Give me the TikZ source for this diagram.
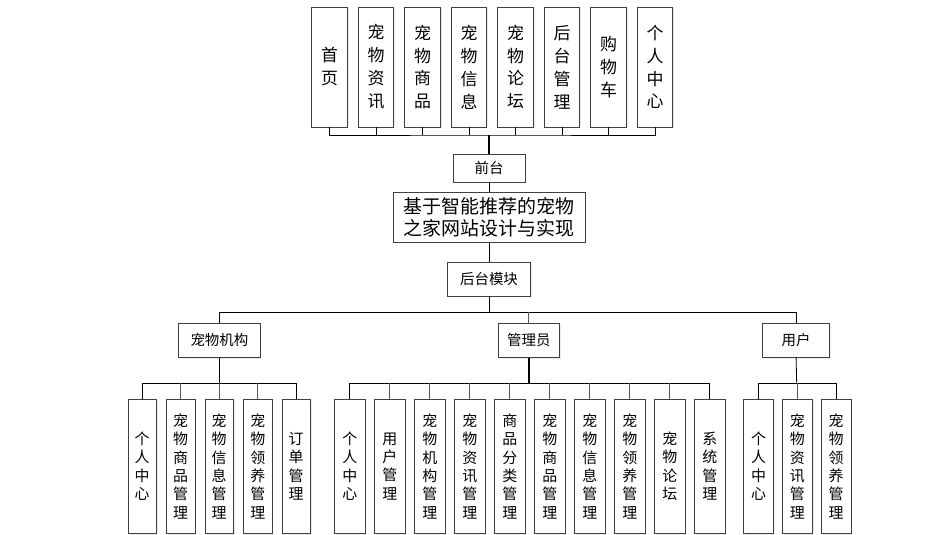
\documentclass[tikz,border=0pt]{standalone}
\usepackage{fontspec}
\setmainfont{Noto Sans CJK SC}
\usetikzlibrary{shadows}

\begin{document}
\begin{tikzpicture}[x=1bp,y=-1bp,
	box/.style={draw=black!75,line width=0.9bp,fill=white,inner sep=0pt,align=center,
		drop shadow={shadow xshift=1.3bp,shadow yshift=-1.3bp,fill=blue!15!black!15,opacity=0.5}},
	topbox/.style={box,minimum width=35.5bp,minimum height=120bp,font=\fontsize{17}{23}\selectfont},
	midbox/.style={box,minimum height=34bp,font=\fontsize{14.5}{16}\selectfont},
	subbox/.style={box,minimum height=134bp,font=\fontsize{15}{18.5}\selectfont},
	link/.style={draw=black,line width=0.8bp},
	stub/.style={draw=black!65,line width=0.9bp},
	trunk/.style={draw=black,line width=1.6bp}]
	\useasboundingbox (0,0) rectangle (945,535);

	% front end
	\node[topbox] (shouye) at (329.5,67) {首\\页};
	\node[topbox] (zixun) at (376,67) {宠\\物\\资\\讯};
	\node[topbox] (shangpin) at (422.5,67) {宠\\物\\商\\品};
	\node[topbox] (xinxi) at (469,67) {宠\\物\\信\\息};
	\node[topbox] (luntan) at (515.5,67) {宠\\物\\论\\坛};
	\node[topbox] (houtai) at (562,67) {后\\台\\管\\理};
	\node[topbox] (gouwu) at (608.5,67) {购\\物\\车};
	\node[topbox] (geren) at (655,67) {个\\人\\中\\心};

	\node[midbox,minimum width=72bp,minimum height=28bp] (qiantai) at (489,168) {前台};
	\node[box,minimum width=192bp,minimum height=50bp,font=\fontsize{19}{21.7}\selectfont] (title) at (489,217.2) {基于智能推荐的宠物\\之家网站设计与实现};
	\node[midbox,minimum width=82.4bp,minimum height=33.7bp] (houtaimk) at (489,279.2) {后台模块};

	% back end roles
	\node[midbox,minimum width=81.2bp] (jigou) at (219.4,340.3) {宠物机构};
	\node[midbox,minimum width=61bp] (admin) at (528.8,340.3) {管理员};
	\node[midbox,minimum width=66.6bp] (yonghu) at (796.1,340.3) {用户};

	% pet organisation
	\node[subbox,minimum width=28.5bp] (j1) at (142.2,466.3) {个\\人\\中\\心};
	\node[subbox,minimum width=28.5bp] (j2) at (180.7,466.3) {宠\\物\\商\\品\\管\\理};
	\node[subbox,minimum width=28.5bp] (j3) at (219.2,466.3) {宠\\物\\信\\息\\管\\理};
	\node[subbox,minimum width=28.5bp] (j4) at (257.8,466.3) {宠\\物\\领\\养\\管\\理};
	\node[subbox,minimum width=28.5bp] (j5) at (296.2,466.3) {订\\单\\管\\理};

	% administrator
	\node[subbox,minimum width=30.5bp] (a1) at (349.8,466.3) {个\\人\\中\\心};
	\node[subbox,minimum width=30.5bp] (a2) at (389.8,466.3) {用\\户\\管\\理};
	\node[subbox,minimum width=30.5bp] (a3) at (429.8,466.3) {宠\\物\\机\\构\\管\\理};
	\node[subbox,minimum width=30.5bp] (a4) at (469.8,466.3) {宠\\物\\资\\讯\\管\\理};
	\node[subbox,minimum width=30.5bp] (a5) at (509.8,466.3) {商\\品\\分\\类\\管\\理};
	\node[subbox,minimum width=30.5bp] (a6) at (549.8,466.3) {宠\\物\\商\\品\\管\\理};
	\node[subbox,minimum width=30.5bp] (a7) at (589.8,466.3) {宠\\物\\信\\息\\管\\理};
	\node[subbox,minimum width=30.5bp] (a8) at (629.8,466.3) {宠\\物\\领\\养\\管\\理};
	\node[subbox,minimum width=30.5bp] (a9) at (669.8,466.3) {宠\\物\\论\\坛};
	\node[subbox,minimum width=30.5bp] (a10) at (709.8,466.3) {系\\统\\管\\理};

	% user
	\node[subbox,minimum width=30bp] (y1) at (758.5,466.3) {个\\人\\中\\心};
	\node[subbox,minimum width=30bp] (y2) at (797.3,466.3) {宠\\物\\资\\讯\\管\\理};
	\node[subbox,minimum width=30bp] (y3) at (836,466.3) {宠\\物\\领\\养\\管\\理};

	% connectors
	\coordinate (busT) at (489,135);
	\draw[link] (shouye.south) |- (busT) -| (geren.south);
	\draw[link] (zixun.south) -- (zixun.south |- busT);
	\draw[link] (shangpin.south) -- (shangpin.south |- busT);
	\draw[link] (xinxi.south) -- (xinxi.south |- busT);
	\draw[link] (luntan.south) -- (luntan.south |- busT);
	\draw[link] (houtai.south) -- (houtai.south |- busT);
	\draw[link] (gouwu.south) -- (gouwu.south |- busT);
	\draw[trunk] (busT) -- (qiantai.north);
	\draw[link] (qiantai.south) -- (title.north);
	\draw[link] (title.south) -- (houtaimk.north);

	\coordinate (busB) at (489,312.3);
	\draw[link] (houtaimk.south) -- (busB);
	\draw[link] (jigou.north) |- (busB) -| (yonghu.north);
	\draw[stub] (admin.north) -- (admin.north |- busB);

	\coordinate (busJ) at (219.4,383.3);
	\draw[link] (jigou.south) -- (busJ);
	\draw[link] (j1.north) |- (busJ) -| (j5.north);
	\draw[stub] (j2.north) -- (j2.north |- busJ);
	\draw[stub] (j3.north) -- (j3.north |- busJ);
	\draw[stub] (j4.north) -- (j4.north |- busJ);

	\coordinate (busA) at (528.8,383.3);
	\draw[trunk] (admin.south) -- (busA);
	\draw[link] (a1.north) |- (busA) -| (a10.north);
	\draw[stub] (a2.north) -- (a2.north |- busA);
	\draw[stub] (a3.north) -- (a3.north |- busA);
	\draw[stub] (a4.north) -- (a4.north |- busA);
	\draw[stub] (a5.north) -- (a5.north |- busA);
	\draw[stub] (a6.north) -- (a6.north |- busA);
	\draw[stub] (a7.north) -- (a7.north |- busA);
	\draw[stub] (a8.north) -- (a8.north |- busA);
	\draw[stub] (a9.north) -- (a9.north |- busA);

	\coordinate (busY) at (796.7,383.3);
	\draw[link] (yonghu.south) -- (busY);
	\draw[link] (y1.north) |- (busY) -| (y3.north);
	\draw[stub] (y2.north) -- (y2.north |- busY);
\end{tikzpicture}
\end{document}
